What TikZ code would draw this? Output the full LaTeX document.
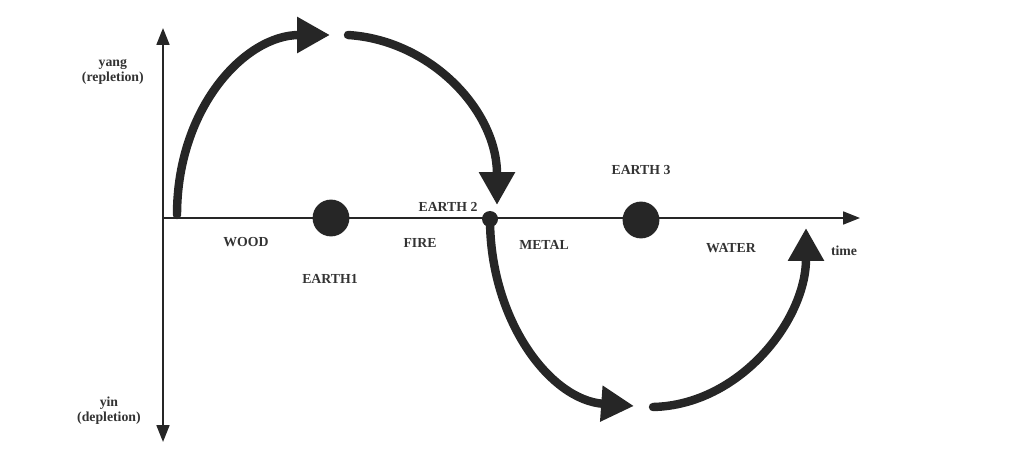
\documentclass[tikz,border=0pt]{standalone}
\usepackage{fontspec}
\setmainfont{Liberation Serif}
\usepackage{tikz}
\usetikzlibrary{arrows.meta}

\begin{document}
\begin{tikzpicture}[x=0.025cm,y=-0.025cm,
  lbl/.style={font=\bfseries\fontsize{9.8}{10.8}\selectfont,text=black!80,align=center,inner sep=0pt},
  axis/.style={line width=1.5pt,draw=black!85},
  flow/.style={line width=6pt,draw=black!85,line cap=round,
    -{Triangle[length=0.82cm,width=0.85cm,line cap=butt]}},
  phase/.style={circle,fill=black!85,inner sep=0pt}]
  \useasboundingbox (0,0) rectangle (1020,466);
  % axes
  \coordinate (top) at (163,28);
  \coordinate (bottom) at (163,442);
  \coordinate (origin) at (163,218);
  \coordinate (tend) at (860,218);
  \draw[axis,{Triangle[length=0.42cm,width=0.32cm]}-{Triangle[length=0.42cm,width=0.32cm]}] (top) -- (bottom);
  \draw[axis,-{Triangle[length=0.42cm,width=0.32cm]}] (origin) -- (tend);
  % earth points
  \node[phase,minimum size=0.92cm] (e1) at (331,218) {};
  \node[phase,minimum size=0.4cm] (e2) at (490,219) {};
  \node[phase,minimum size=0.92cm] (e3) at (641,220) {};
  % labels
  \node[lbl,anchor=east] (yang) at (144,72) {yang\\(repletion)};
  \node[lbl,anchor=east] (yin) at (141,411) {yin\\(depletion)};
  \node[lbl] (wood) at (246,242) {WOOD};
  \node[lbl] (earth1) at (330,279) {EARTH1};
  \node[lbl] (fire) at (420,243) {FIRE};
  \node[lbl] (earth2) at (448,207) {EARTH 2};
  \node[lbl] (metal) at (544,245) {METAL};
  \node[lbl] (earth3) at (641,170) {EARTH 3};
  \node[lbl] (water) at (731,248) {WATER};
  \node[lbl] (time) at (844,251) {time};
  % cycle
  \coordinate (s1) at (177,215);
  \coordinate (t1) at (330,35);
  \coordinate (s2) at (348,35);
  \coordinate (t2) at (497,205);
  \coordinate (t3) at (634,406);
  \coordinate (s4) at (653,407);
  \coordinate (t4) at (806,228);
  \draw[flow] (s1) .. controls (177,108) and (245,35) .. (t1);
  \draw[flow] (s2) .. controls (430,40) and (497,110) .. (t2);
  \draw[flow] (e2.center) .. controls (490,320) and (550,400) .. (t3);
  \draw[flow] (s4) .. controls (740,405) and (806,320) .. (t4);
\end{tikzpicture}
\end{document}
